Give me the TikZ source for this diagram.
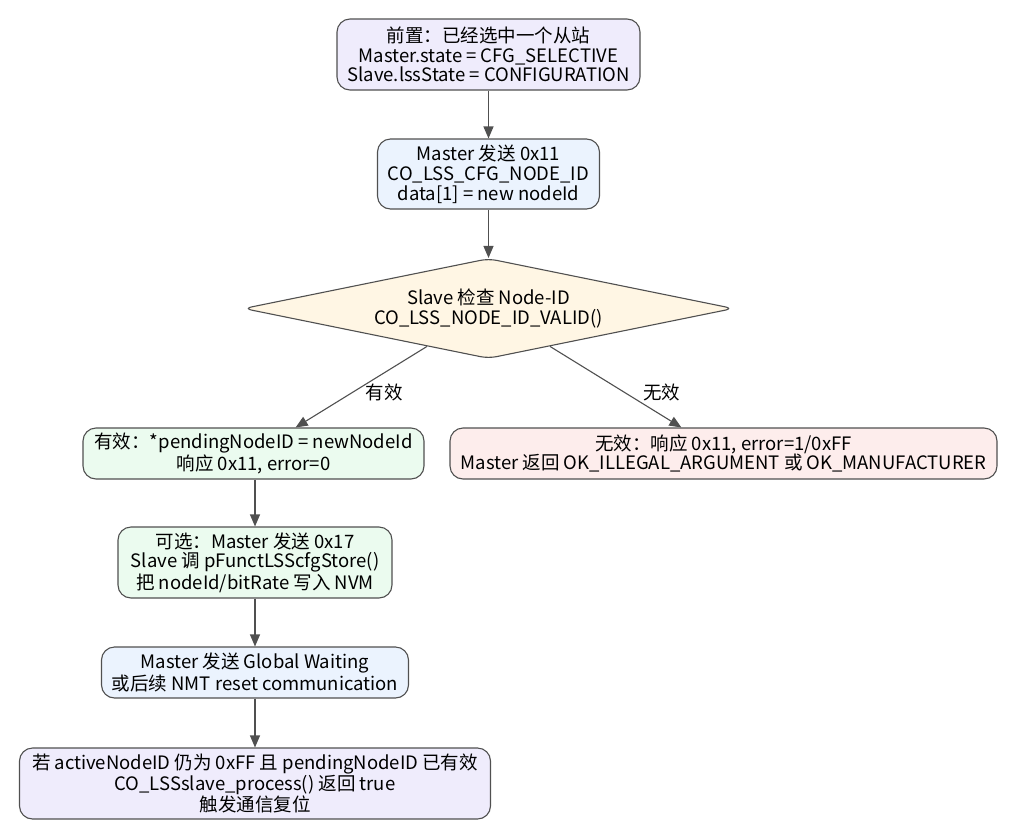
\documentclass[tikz,border=0pt]{standalone}
\usepackage{fontspec}
\setmainfont{Noto Sans CJK SC}
\usetikzlibrary{shapes.geometric,arrows.meta}
\definecolor{lav}{HTML}{EFECFC}
\definecolor{lblue}{HTML}{EBF3FE}
\definecolor{cream}{HTML}{FFF6E4}
\definecolor{lgreen}{HTML}{EBFBEF}
\definecolor{lpink}{HTML}{FDEDEC}
\definecolor{stroke}{HTML}{505050}
\tikzset{
  box/.style={draw=stroke, line width=1.1pt, rounded corners=13pt, align=center,
    inner sep=0pt, font=\fontsize{18.5}{19.8}\selectfont, text=black},
  dec/.style={diamond, draw=stroke, line width=1.1pt, rounded corners=8pt, align=center,
    inner sep=0pt, aspect=4.9, font=\fontsize{18.5}{19.8}\selectfont, fill=cream},
  conn/.style={draw=stroke, line width=1.1pt, -{Triangle[length=12pt,width=10pt]}},
  lbl/.style={font=\fontsize{18.5}{19.8}\selectfont, text=black}
}
\begin{document}
\begin{tikzpicture}[x=1pt,y=-1pt]
\useasboundingbox (0,0) rectangle (1017,838);
\node[box, fill=lav, minimum width=303pt, minimum height=71pt] (n1) at (488.5,54.5)
  {前置：已经选中一个从站\\Master.state = CFG\_SELECTIVE\\Slave.lssState = CONFIGURATION};
\node[box, fill=lblue, minimum width=222pt, minimum height=70pt] (n2) at (488.5,174)
  {Master 发送 0x11\\CO\_LSS\_CFG\_NODE\_ID\\data[1] = new nodeId};
\node[dec, minimum width=490pt, minimum height=100pt] (d) at (488.5,308.5)
  {Slave 检查 Node-ID\\CO\_LSS\_NODE\_ID\_VALID()};
\node[box, fill=lgreen, minimum width=341pt, minimum height=51pt] (v) at (253.5,453.5)
  {有效：*pendingNodeID = newNodeId\\响应 0x11, error=0};
\node[box, fill=lpink, minimum width=547pt, minimum height=51pt] (iv) at (723.5,453.5)
  {无效：响应 0x11, error=1/0xFF\\Master 返回 OK\_ILLEGAL\_ARGUMENT 或 OK\_MANUFACTURER};
\node[box, fill=lgreen, minimum width=274pt, minimum height=71pt] (o) at (255,562.5)
  {可选：Master 发送 0x17\\Slave 调 pFunctLSScfgStore()\\把 nodeId/bitRate 写入 NVM};
\node[box, fill=lblue, minimum width=307pt, minimum height=51pt] (g) at (255,672.5)
  {Master 发送 Global Waiting\\或后续 NMT reset communication};
\node[box, fill=lav, minimum width=471pt, minimum height=71pt] (f) at (255,783.5)
  {若 activeNodeID 仍为 0xFF 且 pendingNodeID 已有效\\CO\_LSSslave\_process() 返回 true\\触发通信复位};

\draw[conn] (n1) -- (n2);
\draw[conn] (n2) -- (d);
\draw[conn] (d) -- node[lbl, midway, xshift=23pt, yshift=-5.5pt] {有效} (v);
\draw[conn] (d) -- node[lbl, midway, xshift=46pt, yshift=-5.5pt] {无效} (iv);
\draw[conn] (o|-v.south) -- (o.north);
\draw[conn] (o) -- (g);
\draw[conn] (g) -- (f);
\end{tikzpicture}
\end{document}
